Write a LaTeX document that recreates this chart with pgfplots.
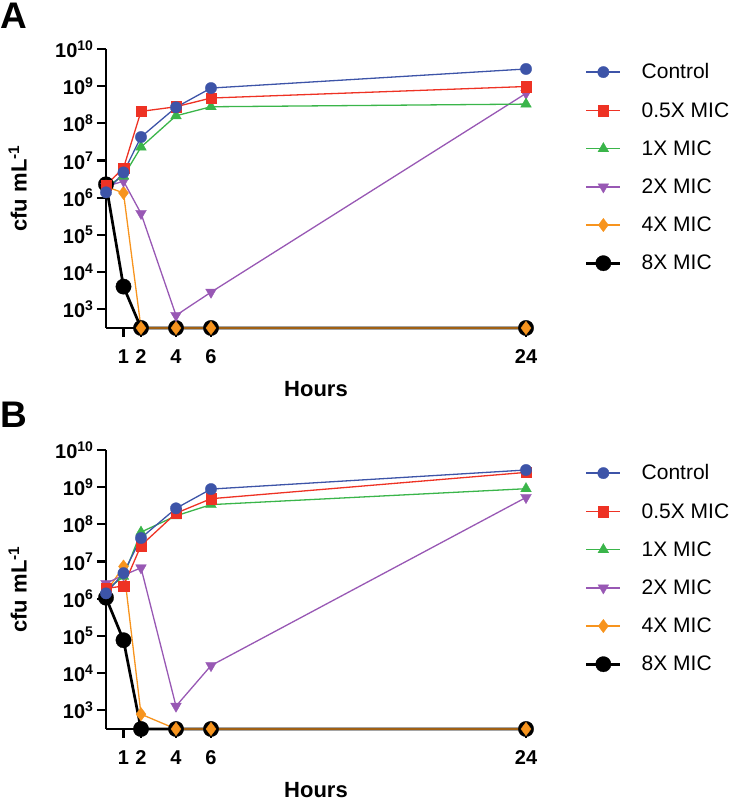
\documentclass[border=0pt]{standalone}
\usepackage{fontspec}
\setmainfont{Liberation Sans}
\usepackage{pgfplots}
\pgfplotsset{compat=1.18}
\definecolor{cblue}{RGB}{61,84,168}
\definecolor{cred}{RGB}{238,50,36}
\definecolor{cgreen}{RGB}{58,181,74}
\definecolor{cpurple}{RGB}{152,88,180}
\definecolor{corange}{RGB}{247,148,30}
\pgfplotsset{
  panel/.style={
    scale only axis, width=420pt, height=279pt,
    xmin=0, xmax=24, ymin=316, ymax=1e10,
    clip=false,
    axis x line=bottom, axis y line=left,
    axis line style={line width=2.4pt, -},
    xtick={1,2,4,6,24},
    ytick={1e3,1e4,1e5,1e6,1e7,1e8,1e9,1e10},
    yticklabels={{10\textsuperscript{3}},{10\textsuperscript{4}},{10\textsuperscript{5}},{10\textsuperscript{6}},{10\textsuperscript{7}},{10\textsuperscript{8}},{10\textsuperscript{9}},{10\textsuperscript{10}}},
    xticklabels={1,2,4,6,24},
    yminorticks=false, xminorticks=false,
    tick align=outside, major tick length=9pt,
    tick style={line width=2.2pt, black},
    ticklabel style={font=\bfseries\fontsize{20}{20}\selectfont},
    xticklabel style={yshift=-9pt},
    xlabel={\textbf{Hours}},
    ylabel={\textbf{cfu mL\textsuperscript{-1}}},
    label style={font=\bfseries\fontsize{22}{22}\selectfont},
    xlabel style={at={(axis description cs:0.5,0)}, anchor=center, yshift=-61pt},
    ylabel style={at={(axis description cs:-0.21,0.5)}, anchor=center},
    legend style={draw=none, fill=none, at={(axis description cs:1.14,0.955)}, anchor=north west,
      font=\fontsize{21}{24}\selectfont, row sep=18pt, inner sep=0pt,
      /tikz/every odd column/.append style={column sep=18pt}},
    legend cell align=left,
    reverse legend,
    legend image code/.code={\draw[mark repeat=2,mark phase=2] plot coordinates {(0pt,0pt) (17pt,0pt) (34pt,0pt)};},
  },
  sC/.style={color=cblue, line width=1.3pt, mark=*, mark size=5.7pt, mark options={solid, fill=cblue, draw=cblue, line width=0.3pt}},
  sH/.style={color=cred, line width=1.3pt, mark=square*, mark size=5.2pt, mark options={solid, fill=cred, draw=cred, line width=0.3pt}},
  sO/.style={color=cgreen, line width=1.3pt, mark=triangle*, mark size=6.2pt, mark options={solid, fill=cgreen, draw=cgreen, line width=0.3pt}},
  sT/.style={color=cpurple, line width=1.3pt, mark=triangle*, mark size=6.2pt, mark options={solid, rotate=180, fill=cpurple, draw=cpurple, line width=0.3pt}},
  sF/.style={color=corange, line width=1.3pt, mark=diamond*, mark size=6.7pt, mark options={solid, fill=corange, draw=corange, line width=0.3pt}},
  sE/.style={color=black, line width=2.7pt, mark=*, mark size=7.7pt, mark options={solid, fill=black, draw=black, line width=0.3pt}},
}
\begin{document}
\begin{tikzpicture}
\useasboundingbox (0pt,0pt) rectangle (731pt,799pt);
\node[anchor=north west, inner sep=0pt, font=\bfseries\fontsize{37}{37}\selectfont] at (0pt,796pt) {A};
\node[anchor=north west, inner sep=0pt, font=\bfseries\fontsize{37}{37}\selectfont] at (0pt,397pt) {B};
% Panel A
\begin{semilogyaxis}[panel, at={(106pt,471pt)}, anchor=south west]
\addplot[sE] coordinates {(0,2.3e6) (1,4.1e3) (2,316) (4,316) (6,316) (24,316)};
\addlegendentry{8X MIC}
\addplot[sF] coordinates {(0,2.0e6) (1,1.35e6) (2,316) (4,316) (6,316) (24,316)};
\addlegendentry{4X MIC}
\addplot[sT] coordinates {(0,2.0e6) (1,2.8e6) (2,3.8e5) (4,6.9e2) (6,2.9e3) (24,6.4e8)};
\addlegendentry{2X MIC}
\addplot[sO] coordinates {(0,2.0e6) (1,3.8e6) (2,2.3e7) (4,1.6e8) (6,2.8e8) (24,3.3e8)};
\addlegendentry{1X MIC}
\addplot[sH] coordinates {(0,2.2e6) (1,6.3e6) (2,2.1e8) (4,2.8e8) (6,4.8e8) (24,9.8e8)};
\addlegendentry{0.5X MIC}
\addplot[sC] coordinates {(0,1.4e6) (1,4.8e6) (2,4.3e7) (4,2.7e8) (6,8.9e8) (24,2.9e9)};
\addlegendentry{Control}
\end{semilogyaxis}
% Panel B
\begin{semilogyaxis}[panel, at={(106pt,70pt)}, anchor=south west]
\addplot[sE] coordinates {(0,1.07e6) (1,7.7e4) (2,316) (4,316) (6,316) (24,316)};
\addlegendentry{8X MIC}
\addplot[sF] coordinates {(0,1.5e6) (1,7.4e6) (2,7.9e2) (4,316) (6,316) (24,316)};
\addlegendentry{4X MIC}
\addplot[sT] coordinates {(0,2.6e6) (1,4.3e6) (2,6.8e6) (4,1.3e3) (6,1.6e4) (24,5.3e8)};
\addlegendentry{2X MIC}
\addplot[sO] coordinates {(0,1.7e6) (1,4.0e6) (2,6.2e7) (4,1.7e8) (6,3.4e8) (24,9.1e8)};
\addlegendentry{1X MIC}
\addplot[sH] coordinates {(0,1.9e6) (1,2.2e6) (2,2.7e7) (4,2.0e8) (6,4.9e8) (24,2.5e9)};
\addlegendentry{0.5X MIC}
\addplot[sC] coordinates {(0,1.4e6) (1,4.9e6) (2,4.3e7) (4,2.7e8) (6,8.9e8) (24,2.9e9)};
\addlegendentry{Control}
\end{semilogyaxis}
\end{tikzpicture}
\end{document}
